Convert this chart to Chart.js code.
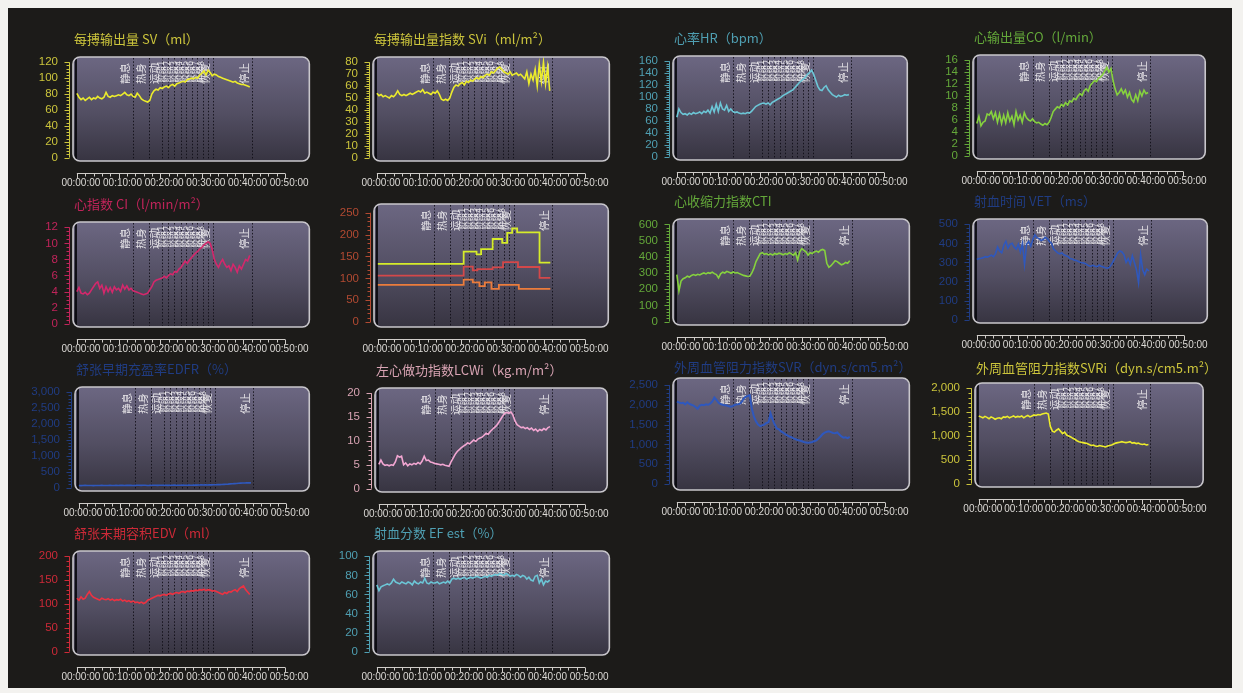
<!DOCTYPE html>
<html>
<head>
<meta charset="utf-8">
<script src="https://cdn.jsdelivr.net/npm/chart.js@4.4.1/dist/chart.umd.min.js"></script>
<style>
html, body { margin: 0; padding: 0; background: #f3f2ef; width: 1243px; height: 693px; overflow: hidden; }
#board { position: absolute; left: 8px; top: 8px; width: 1224px; height: 680px; background: #1c1b19; }
canvas { position: absolute; }
</style>
</head>
<body>
<div id="board"></div>
<script>
// Sample times in minutes from the start of the test
const minutes = [0,0.5,1,1.5,2,2.5,3,3.5,4,4.5,5,5.5,6,6.5,7,7.5,8,8.5,9,9.5,10,10.5,11,11.5,12,12.5,13,13.5,14,14.5,15,15.5,16,16.5,17,17.5,18,18.5,19,19.5,20,20.5,21,21.5,22,22.5,23,23.5,24,24.5,25,25.5,26,26.5,27,27.5,28,28.5,29,29.5,30,30.5,31,31.5,32,32.5,33,33.5,34,34.5,35,35.5,36,36.5,37,37.5,38,38.5,39,39.5,40,40.5,41,41.5];

// Protocol markers (minutes) and their names
const stageMinutes = [13.5, 17.4, 20.5, 21.9, 23.4, 25.0, 26.2, 27.7, 28.9, 30.4, 31.6, 32.8, 42.0];
const stageNames = ['静息','热身','运动','阶段1','阶段2','阶段3','阶段4','阶段5','阶段6','阶段7','阶段8','恢复','停止'];

// Time axis labels
const timeTicks = [0, 10, 20, 30, 40, 50];

// Stroke volume SV (ml)
const svValues = [81,76,73,75,72,74,76,73,75,74, 77,75,74,76,82,77,76,78,77,78, 79,78,80,82,79,78,80,77,76,81, 78,74,72,71,70,72,80,84,86,85, 88,87,89,90,88,91,92,90,93,94, 95,96,95,98,99,100,99,101,100,104, 106,109,104,110,107,103,105,104,102,101, 100,99,98,97,96,95,96,94,93,92, 92,91,90,89];
const svTicks = [0,20,40,60,80,100,120];

// Stroke volume index SVi (ml/m2)
const sviValues = [54,52,53,51,52,51,50,52,51,53, 56,53,52,53,52,53,54,53,54,55, 56,55,57,54,55,54,53,55,54,56, 53,49,48,49,48,50,55,59,61,60, 62,63,61,64,63,65,64,66,67,66, 68,67,69,70,69,72,71,73,75,76, 74,72,71,70,72,69,70,71,69,70, 68,66,72,62,70,65,74,60,78,64, 80,62,76,56];
const sviTicks = [0,10,20,30,40,50,60,70,80];

// Heart rate HR (bpm)
const hrValues = [66,80,74,71,72,70,73,71,74,72, 73,75,72,76,74,78,73,84,75,88, 76,90,80,78,86,76,80,76,74,75, 73,72,73,72,74,73,76,80,84,86, 88,89,90,88,90,87,91,93,95,97, 99,102,104,106,108,110,112,116,120,124, 127,130,133,138,141,145,138,128,118,112, 111,116,119,112,108,104,102,100,103,101, 102,104,103,104];
const hrTicks = [0,20,40,60,80,100,120,140,160];

// Cardiac output CO (l/min)
const coValues = [5.4,6.6,5.0,5.6,5.8,7.0,6.8,7.4,6.2,7.2, 5.6,7.0,5.4,6.8,5.5,7.2,5.8,6.6,5.2,7.4, 6.0,6.8,5.6,7.2,6.4,6.0,5.8,6.2,5.7,5.5, 5.6,5.3,5.1,5.4,5.2,5.6,6.4,7.4,7.8,8.2, 8.0,8.6,8.3,8.9,8.5,9.2,9.0,9.6,9.4,10.0, 10.4,10.1,10.9,11.2,10.8,11.8,12.2,12.6,12.4,13.0, 13.2,13.6,14.2,14.8,14.0,14.6,12.6,11.2,10.2,10.6, 11.2,10.4,11.0,9.8,10.6,9.4,9.0,10.2,9.2,10.8, 10.0,11.0,10.4,10.6];
const coTicks = [0,2,4,6,8,10,12,14,16];

// Cardiac index CI (l/min/m2)
const ciValues = [4.0,4.5,3.8,3.7,3.9,3.6,3.8,4.2,4.6,5.0, 5.2,4.4,4.8,3.8,4.6,4.0,4.5,3.9,4.6,4.2, 4.4,4.0,4.8,4.3,4.7,4.2,4.4,4.1,4.0,3.9, 3.8,3.7,3.6,3.7,3.8,4.2,4.6,5.2,5.4,5.5, 5.6,5.7,5.9,5.7,6.0,6.2,6.1,6.5,6.4,6.8, 7.0,7.4,7.8,7.5,7.9,8.2,8.5,8.8,9.0,9.3, 9.5,9.8,10.0,10.2,10.0,9.2,8.0,7.4,7.0,7.6, 8.0,7.4,7.0,7.2,6.6,7.4,7.0,6.4,7.2,6.8, 7.4,8.0,7.8,8.5];
const ciTicks = [0,2,4,6,8,10,12];

// Workload curves (step changes at protocol transitions)
const upperStepMinutes = [0, 20.7, 23.8, 24.9, 27.7, 30.0, 31.2, 32.4, 33.6, 39.0, 41.6];
const upperStepValues  = [133, 161, 155, 167, 190, 181, 204, 214, 205, 136, 136];
const middleStepMinutes = [0, 20.7, 22.9, 24.0, 27.7, 30.2, 33.8, 39.0, 41.6];
const middleStepValues  = [106, 127, 118, 121, 125, 137, 126, 101, 101];
const lowerStepMinutes = [0, 20.7, 22.9, 24.5, 25.8, 27.4, 29.2, 34.0, 41.6];
const lowerStepValues  = [85, 97, 91, 82, 91, 76, 85, 76, 76];
const stepTicks = [0,50,100,150,200,250];

// Contractility index CTI
const ctiValues = [290,190,250,265,270,280,275,285,290,285, 292,288,295,300,294,302,298,305,296,290, 270,295,305,300,310,305,298,306,300,302, 296,290,285,282,278,280,300,330,370,395, 420,425,415,420,412,418,410,420,415,422, 418,412,420,415,425,418,410,425,380,430, 450,440,430,410,425,420,430,435,428,440, 445,438,360,335,345,360,375,370,360,350, 355,365,360,375];
const ctiTicks = [0,100,200,300,400,500,600];

// Ventricular ejection time VET (ms)
const vetValues = [315,320,322,325,330,328,332,338,330,345, 380,360,350,390,410,375,395,400,380,370, 395,355,400,290,395,410,385,420,445,430, 425,415,420,432,425,410,400,370,360,350, 345,350,340,335,330,320,318,312,310,305, 300,298,295,290,282,280,285,280,278,285, 280,276,272,270,275,290,310,330,350,360, 355,340,300,320,290,335,300,262,195,340, 260,235,265,255];
const vetTicks = [0,100,200,300,400,500];

// Early diastolic filling ratio EDFR (%)
const edfrValues = [70,65,68,72,66,70,68,64,70,66, 68,72,70,66,70,74,70,68,72,70, 74,72,70,76,72,74,70,72,76,74, 72,76,74,70,72,76,74,78,72,76, 74,78,76,72,78,74,80,76,78,74, 80,76,78,82,78,80,84,80,82,86, 84,88,86,90,88,92,90,94,96,100, 104,108,112,118,122,128,132,138,142,146, 148,150,152,150];
const edfrTicks = [0,500,1000,1500,2000,2500,3000];

// Left cardiac work index LCWi (kg.m/m2)
const lcwiValues = [5.1,6.0,5.2,4.9,5.0,4.8,5.0,4.9,5.6,6.9, 6.6,6.8,5.0,5.4,4.8,5.2,5.0,5.3,5.1,5.5, 5.2,5.8,6.8,5.9,6.0,5.6,5.5,5.3,5.2,5.1, 5.0,5.1,4.9,4.8,4.7,5.6,6.4,7.2,7.8,8.2, 8.6,8.9,9.2,9.6,9.4,9.8,10.2,9.9,10.4,10.6, 10.8,11.2,11.6,11.4,12.0,12.4,12.8,13.2,13.8,14.5, 15.2,15.8,16.0,15.8,16.1,15.4,14.2,13.4,13.1,12.8, 12.9,12.6,12.8,12.4,12.7,12.2,12.5,12.0,12.4,12.2, 12.6,12.3,12.8,13.0];
const lcwiTicks = [0,5,10,15,20];

// Systemic vascular resistance SVR
const svrValues = [2080,2060,2040,2050,2010,2060,2020,2000,1980,1940, 1900,1980,2000,1990,2010,2000,2030,2080,2180,2120, 2050,2020,2000,1990,1980,1960,1950,1970,2000,2010, 2020,2060,2150,2200,2220,2240,1900,1700,1580,1500, 1460,1480,1500,1540,1560,1780,1620,1500,1400,1380, 1330,1300,1260,1230,1200,1180,1150,1130,1110,1100, 1080,1060,1050,1040,1050,1060,1080,1100,1150,1200, 1260,1300,1320,1330,1310,1290,1280,1300,1250,1200, 1170,1180,1160,1190];
const svrTicks = [0,500,1000,1500,2000,2500];

// Systemic vascular resistance index SVRi
const svriValues = [1420,1400,1380,1410,1390,1360,1400,1380,1350,1370, 1380,1360,1400,1390,1410,1380,1400,1420,1390,1410, 1400,1420,1380,1410,1430,1400,1420,1440,1430,1450, 1440,1460,1470,1480,1460,1200,1100,1080,1120,1150, 1100,1050,1080,1020,1000,980,950,930,900,880, 870,860,850,840,820,800,810,790,780,800, 790,780,770,790,800,810,830,850,860,870, 880,870,860,870,880,850,860,840,850,830, 820,830,810,820];
const svriTicks = [0,500,1000,1500,2000];

// End diastolic volume EDV (ml)
const edvValues = [112,108,115,110,112,120,126,118,114,112, 110,108,112,110,109,111,108,110,107,109, 108,110,106,108,105,107,104,106,103,104, 102,104,101,103,108,110,112,114,116,118, 117,119,120,118,121,122,120,123,124,122, 125,126,124,127,126,128,127,129,128,130, 129,131,128,130,129,127,128,126,124,122, 120,124,122,126,125,128,130,126,132,135, 138,130,125,120];
const edvTicks = [0,50,100,150,200];

// Ejection fraction EF est (%)
const efValues = [70,64,68,69,70,71,70,72,76,73, 72,71,73,72,71,73,72,70,74,72, 71,73,72,77,72,71,73,72,72,73, 71,72,73,72,74,72,76,77,76,77, 76,77,78,76,77,78,77,78,79,78, 77,78,79,78,80,79,80,81,80,82, 81,80,82,81,79,80,79,81,80,78, 80,79,76,78,75,74,79,80,72,76, 70,74,73,75];
const efTicks = [0,20,40,60,80,100];

// ---------------------------------------------------------------------------
const AXIS_W = 58, TOP_SPACE = 30, BOTTOM_SPACE = 34, RIGHT_SPACE = 4;
const PX_PER_MIN = 4.3;

function pairs(xs, ys) { return xs.map((x, i) => ({ x: x, y: ys[i] })); }
function clockLabel(v) { return '00:' + String(v).padStart(2, '0') + ':00'; }
function withCommas(v) { return Number(v).toLocaleString('en-US'); }

function roundedPath(ctx, x, y, w, h, r) {
  ctx.beginPath();
  ctx.moveTo(x + r, y);
  ctx.lineTo(x + w - r, y);
  ctx.arcTo(x + w, y, x + w, y + r, r);
  ctx.lineTo(x + w, y + h - r);
  ctx.arcTo(x + w, y + h, x + w - r, y + h, r);
  ctx.lineTo(x + r, y + h);
  ctx.arcTo(x, y + h, x, y + h - r, r);
  ctx.lineTo(x, y + r);
  ctx.arcTo(x, y, x + r, y, r);
  ctx.closePath();
}

function decorPlugin(cfg) {
  return {
    id: 'panelDecor',
    beforeDatasetsDraw(chart) {
      const { ctx, chartArea: a, scales: { x } } = chart;
      ctx.save();
      roundedPath(ctx, a.left, a.top, a.right - a.left, a.bottom - a.top, 7);
      const g = ctx.createLinearGradient(0, a.top, 0, a.bottom);
      g.addColorStop(0, '#6c6782');
      g.addColorStop(0.55, '#524e62');
      g.addColorStop(1, '#373441');
      ctx.fillStyle = g;
      ctx.fill();
      ctx.clip();
      // start-of-test marker
      const x0 = x.getPixelForValue(0);
      ctx.strokeStyle = 'rgba(8,8,12,0.9)';
      ctx.lineWidth = 2.2;
      ctx.beginPath(); ctx.moveTo(x0 - 1, a.top); ctx.lineTo(x0 - 1, a.bottom); ctx.stroke();
      // protocol markers
      ctx.setLineDash([1.5, 1.8]);
      ctx.lineWidth = 1;
      ctx.strokeStyle = 'rgba(14,12,20,0.85)';
      stageMinutes.forEach(m => {
        const px = Math.round(x.getPixelForValue(m)) + 0.5;
        ctx.beginPath(); ctx.moveTo(px, a.top + 1); ctx.lineTo(px, a.bottom - 1); ctx.stroke();
      });
      ctx.setLineDash([]);
      // marker names, written upward along each marker
      ctx.fillStyle = 'rgba(240,238,240,0.92)';
      stageNames.forEach((name, i) => {
        const px = x.getPixelForValue(stageMinutes[i]);
        const small = name.length > 2;
        ctx.save();
        ctx.translate(px - 3, a.top + (small ? 4 : 6));
        ctx.rotate(-Math.PI / 2);
        ctx.font = (small ? '8.5px' : '10.5px') + ' "Noto Sans CJK SC"';
        ctx.textAlign = 'right';
        ctx.textBaseline = 'bottom';
        ctx.fillText(name, 0, 0);
        ctx.restore();
      });
      ctx.restore();
    },
    afterDatasetsDraw(chart) {
      const { ctx, chartArea: a } = chart;
      ctx.save();
      roundedPath(ctx, a.left, a.top, a.right - a.left, a.bottom - a.top, 7);
      ctx.lineWidth = 1.6;
      ctx.strokeStyle = '#c9c7cc';
      ctx.stroke();
      ctx.restore();
    },
    afterDraw(chart) {
      const { ctx, chartArea: a, scales: { x, y } } = chart;
      ctx.save();
      // value axis with minor marks
      const ax = a.left - 3.5;
      ctx.strokeStyle = cfg.axisColor;
      ctx.lineWidth = 1;
      const yTop = cfg.ticks[cfg.ticks.length - 1];
      ctx.beginPath();
      ctx.moveTo(ax, y.getPixelForValue(0));
      ctx.lineTo(ax, y.getPixelForValue(yTop));
      ctx.stroke();
      const major = cfg.ticks[1] - cfg.ticks[0];
      const minor = major / cfg.minorParts;
      for (let k = 0; k <= cfg.minorParts * (cfg.ticks.length - 1); k++) {
        const v = k * minor;
        const py = Math.round(y.getPixelForValue(v)) + 0.5;
        const len = (k % cfg.minorParts === 0) ? 5 : 3;
        ctx.beginPath(); ctx.moveTo(ax - len, py); ctx.lineTo(ax, py); ctx.stroke();
      }
      // time axis with minor marks every 2 minutes
      const ty = a.bottom + 12.5;
      ctx.strokeStyle = '#cfccc8';
      ctx.beginPath();
      ctx.moveTo(x.getPixelForValue(0), ty);
      ctx.lineTo(x.getPixelForValue(50), ty);
      ctx.stroke();
      for (let m = 0; m <= 50; m += 2) {
        const px = Math.round(x.getPixelForValue(m)) + 0.5;
        const len = (m % 10 === 0) ? 5 : 3;
        ctx.beginPath(); ctx.moveTo(px, ty); ctx.lineTo(px, ty + len); ctx.stroke();
      }
      // panel title
      if (cfg.title) {
        ctx.fillStyle = cfg.titleColor;
        ctx.font = '13px "Noto Sans CJK SC"';
        ctx.textAlign = 'left';
        ctx.textBaseline = 'middle';
        ctx.fillText(cfg.title, a.left + 1, a.top - (cfg.titleGap || 18));
      }
      ctx.restore();
    }
  };
}

function addPanel(cfg) {
  const [left, top, w, h] = cfg.box;
  const canvas = document.createElement('canvas');
  canvas.width = AXIS_W + w + RIGHT_SPACE;
  canvas.height = TOP_SPACE + h + BOTTOM_SPACE;
  canvas.style.left = (left - AXIS_W) + 'px';
  canvas.style.top = (top - TOP_SPACE) + 'px';
  document.body.appendChild(canvas);
  const yTop = cfg.ticks[cfg.ticks.length - 1];
  new Chart(canvas, {
    type: 'line',
    data: {
      datasets: cfg.series.map(s => ({
        data: pairs(s.x, s.y),
        borderColor: s.color,
        borderWidth: s.width || 1.6,
        pointRadius: 0,
        tension: 0,
        stepped: s.stepped || false,
        fill: false
      }))
    },
    options: {
      responsive: false,
      animation: false,
      events: [],
      layout: { padding: { left: 0, top: TOP_SPACE, right: RIGHT_SPACE, bottom: 0 } },
      plugins: { legend: { display: false }, tooltip: { enabled: false } },
      scales: {
        x: {
          type: 'linear',
          min: -4 / PX_PER_MIN,
          max: (w - 4) / PX_PER_MIN,
          afterFit: s => { s.height = BOTTOM_SPACE; },
          afterBuildTicks: s => { s.ticks = timeTicks.map(v => ({ value: v })); },
          grid: { display: false, drawTicks: false },
          border: { display: false },
          ticks: {
            autoSkip: false, maxRotation: 0, minRotation: 0, padding: 16, labelOffset: 4,
            color: '#dcdad6',
            font: { family: '"Liberation Sans", Arial, sans-serif', size: 10 },
            callback: v => clockLabel(v)
          }
        },
        y: {
          type: 'linear',
          min: -(cfg.lowPad || 0.035) * yTop,
          max: (1 + (cfg.highPad || 0.055)) * yTop,
          afterFit: s => { s.width = AXIS_W; },
          afterBuildTicks: s => { s.ticks = cfg.ticks.map(v => ({ value: v })); },
          grid: { display: false, drawTicks: false },
          border: { display: false },
          ticks: {
            autoSkip: false, padding: 15,
            color: cfg.axisColor,
            font: { family: '"Liberation Sans", Arial, sans-serif', size: 11.5 },
            callback: v => withCommas(v)
          }
        }
      }
    },
    plugins: [decorPlugin(cfg)]
  });
}

const YELLOW = '#ecec2c', YELLOW_T = '#cbc43c';
const CYAN = '#6cc6d6', CYAN_T = '#4f9fb2';
const GREEN = '#86d23e', GREEN_T = '#64a83a';
const MAGENTA = '#d4286c', MAGENTA_T = '#c0245a';
const BLUE = '#2f58bd', BLUE_T = '#203c82';
const PINK = '#f2a6d2', PINK_T = '#d9a4b4';
const RED = '#ec3242', RED_T = '#cc2a38';

addPanel({ box: [73, 57, 244, 104], title: '每搏输出量 SV（ml）', titleColor: YELLOW_T, axisColor: YELLOW_T,
  ticks: svTicks, minorParts: 5, series: [{ x: minutes, y: svValues, color: YELLOW }] });
addPanel({ box: [373, 57, 244, 104], title: '每搏输出量指数 SVi（ml/m²）', titleColor: YELLOW_T, axisColor: YELLOW_T,
  ticks: sviTicks, minorParts: 5, series: [{ x: minutes, y: sviValues, color: YELLOW }] });
addPanel({ box: [673, 56, 243, 104], title: '心率HR（bpm）', titleColor: CYAN_T, axisColor: CYAN_T,
  ticks: hrTicks, minorParts: 5, series: [{ x: minutes, y: hrValues, color: CYAN }] });
addPanel({ box: [973, 55, 242, 104], title: '心输出量CO（l/min）', titleColor: GREEN_T, axisColor: GREEN_T,
  ticks: coTicks, minorParts: 4, series: [{ x: minutes, y: coValues, color: GREEN }] });

addPanel({ box: [73, 222, 244, 105], title: '心指数 CI（l/min/m²）', titleColor: MAGENTA_T, axisColor: MAGENTA_T,
  ticks: ciTicks, minorParts: 4, series: [{ x: minutes, y: ciValues, color: MAGENTA }] });
addPanel({ box: [374, 204, 243, 123], title: '', titleColor: '#b04a30', axisColor: '#b24a32',
  ticks: stepTicks, minorParts: 5, lowPad: 0.045, highPad: 0.08,
  series: [
    { x: upperStepMinutes, y: upperStepValues, color: '#d6ec2a', stepped: 'before', width: 1.8 },
    { x: middleStepMinutes, y: middleStepValues, color: '#d4484a', stepped: 'before', width: 1.8 },
    { x: lowerStepMinutes, y: lowerStepValues, color: '#ec7c3c', stepped: 'before', width: 1.8 }
  ] });
addPanel({ box: [673, 219, 244, 106], title: '心收缩力指数CTI', titleColor: GREEN_T, axisColor: GREEN_T,
  ticks: ctiTicks, minorParts: 5, series: [{ x: minutes, y: ctiValues, color: GREEN }] });
addPanel({ box: [973, 219, 243, 104], title: '射血时间 VET（ms）', titleColor: BLUE_T, axisColor: BLUE_T,
  ticks: vetTicks, minorParts: 5, series: [{ x: minutes, y: vetValues, color: BLUE }] });

addPanel({ box: [75, 387, 243, 104], title: '舒张早期充盈率EDFR（%）', titleColor: BLUE_T, axisColor: BLUE_T,
  ticks: edfrTicks, minorParts: 5, series: [{ x: minutes, y: edfrValues, color: BLUE }] });
addPanel({ box: [375, 388, 242, 104], title: '左心做功指数LCWi（kg.m/m²）', titleColor: PINK_T, axisColor: PINK_T,
  ticks: lcwiTicks, minorParts: 5, series: [{ x: minutes, y: lcwiValues, color: PINK }] });
addPanel({ box: [673, 378, 244, 112], title: '外周血管阻力指数SVR（dyn.s/cm5.m²）', titleColor: BLUE_T, axisColor: BLUE_T,
  ticks: svrTicks, minorParts: 5, lowPad: 0.06, highPad: 0.07, titleGap: 11,
  series: [{ x: minutes, y: svrValues, color: BLUE, width: 2 }] });
addPanel({ box: [975, 383, 240, 104], title: '外周血管阻力指数SVRi（dyn.s/cm5.m²）', titleColor: YELLOW_T, axisColor: YELLOW_T,
  ticks: svriTicks, minorParts: 5, titleGap: 15, series: [{ x: minutes, y: svriValues, color: YELLOW }] });

addPanel({ box: [73, 551, 244, 104], title: '舒张末期容积EDV（ml）', titleColor: RED_T, axisColor: RED_T,
  ticks: edvTicks, minorParts: 5, series: [{ x: minutes, y: edvValues, color: RED }] });
addPanel({ box: [373, 551, 244, 104], title: '射血分数 EF est（%）', titleColor: CYAN_T, axisColor: CYAN_T,
  ticks: efTicks, minorParts: 5, series: [{ x: minutes, y: efValues, color: CYAN }] });
</script>
</body>
</html>
